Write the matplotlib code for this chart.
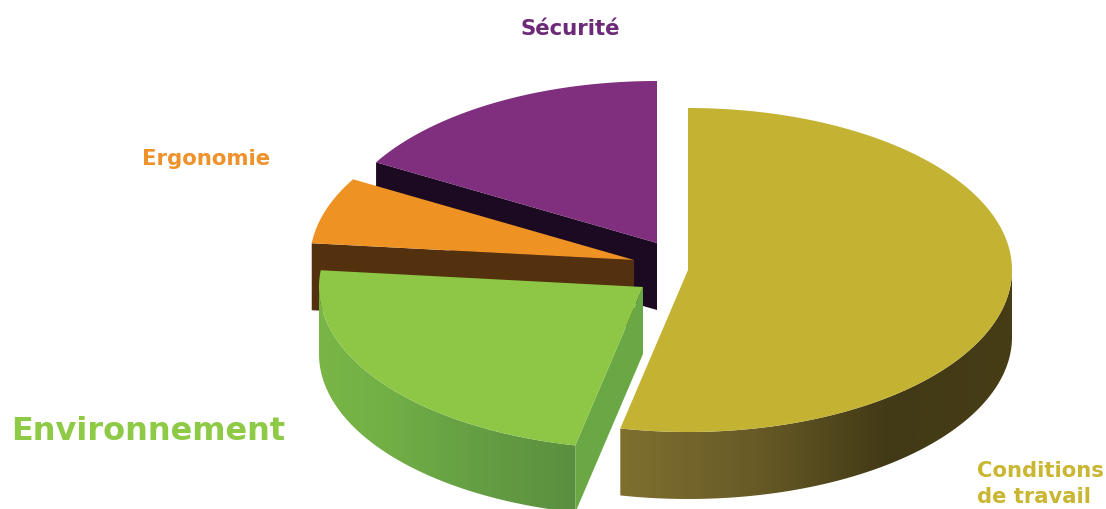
import numpy as np
import matplotlib
matplotlib.use('Agg')
import matplotlib.pyplot as plt
from matplotlib.colors import LinearSegmentedColormap
from matplotlib.patches import Polygon

# share of each theme, clockwise from the top
labels = ['Conditions\nde travail', 'Environnement', 'Ergonomie', 'Sécurité']
shares = [53.35, 23.3, 6.65, 16.7]
top_colors = ['#c4b233', '#8dc745', '#ee9223', '#7f2f7d']
text_colors = ['#c9b632', '#8fca47', '#f0922b', '#6c2a78']
wall_colors = ['#4a4118', '#69a845', '#53300e', '#1c0a22']

# exploded centre of each slice, in pixels
centers = [(688, 270), (643, 287), (634, 260), (657, 243)]
label_pos = [(977, 484), (11, 432), (142, 159), (521, 29)]
label_size = [15.2, 23, 15.3, 15.3]

rx, ry = 324, 162
depth = 67
start = 90.0

rim_stops = {
    0: [(0.0, '#7f702f'), (0.35, '#675a26'), (0.68, '#423a16'), (1.0, '#463d16')],
    1: [(0.0, '#79b647'), (0.25, '#72b046'), (0.6, '#659f43'), (1.0, '#5b8f40')],
}


def arc(center, a0, a1, shift=0):
    t = np.radians(np.linspace(a0, a1, 200))
    return np.column_stack((center[0] + rx * np.cos(t),
                            center[1] - ry * np.sin(t) + shift))


fig = plt.figure(figsize=(11.06, 5.09), dpi=100)
ax = fig.add_axes([0, 0, 1, 1])
ax.axis('off')

# angle span of each slice, going clockwise
sweeps = np.array(shares) / sum(shares) * 360
ends = start - np.cumsum(sweeps)
begins = ends + sweeps

# back slices first so the nearer ones cover them
for n, i in enumerate([3, 2, 1, 0]):
    c = centers[i]
    a0, a1 = begins[i], ends[i]
    z = n * 3

    # cut face under the leading edge of the slice
    if i in (1, 2, 3):
        p = arc(c, a0, a0)[0]
        wall = [p, c, (c[0], c[1] + depth), (p[0], p[1] + depth)]
        ax.add_patch(Polygon(wall, fc=wall_colors[i], ec='none', zorder=z + 1))

    # outer rim, only the part facing the viewer
    if i in rim_stops:
        if i == 0:
            rim_a, rim_b = a1 % 360, 360
        else:
            rim_a, rim_b = 180, a0 % 360
        pts = np.vstack((arc(c, rim_a, rim_b), arc(c, rim_b, rim_a, depth)))
        rim = Polygon(pts, fc='none', ec='none')
        ax.add_patch(rim)
        cmap = LinearSegmentedColormap.from_list('rim', rim_stops[i])
        grad = np.linspace(0, 1, 256).reshape(1, -1)
        im = ax.imshow(grad, cmap=cmap, aspect='auto', zorder=z,
                       extent=(pts[:, 0].min(), pts[:, 0].max(), pts[:, 1].max(), pts[:, 1].min()))
        im.set_clip_path(rim)

    top = np.vstack(([c], arc(c, a0, a1)))
    ax.add_patch(Polygon(top, fc=top_colors[i], ec='none', zorder=z + 2))

ax.set_xlim(0, 1106)
ax.set_ylim(509, 0)

for name, pos, col, size in zip(labels, label_pos, text_colors, label_size):
    ax.text(pos[0], pos[1], name, color=col, fontsize=size, fontweight='bold',
            family='DejaVu Sans', va='center', ha='left', linespacing=1.4)

fig.savefig('out.png', dpi=100)
